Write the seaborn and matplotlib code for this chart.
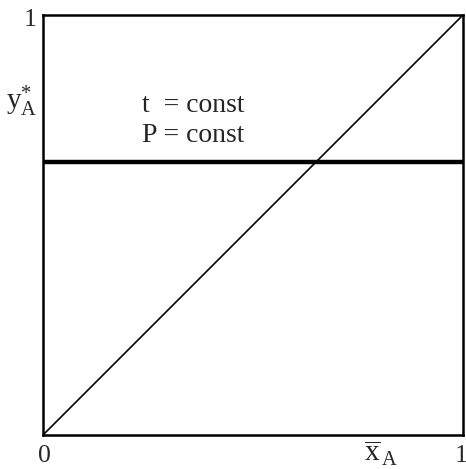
import matplotlib
matplotlib.use("Agg")
import matplotlib.pyplot as plt
import seaborn as sns
import pandas as pd

# Equilibrium diagram: vapour composition y*_A vs. liquid composition x_A
x_ends = [0.0, 1.0]
diagonal = [0.0, 1.0]
y_const = 0.65          # constant vapour composition at fixed t and P
conditions = ["t  = const", "P = const"]

sns.set_theme(style="white")
plt.rcParams["font.family"] = ["Liberation Serif", "DejaVu Serif"]
plt.rcParams["mathtext.fontset"] = "custom"
plt.rcParams["mathtext.rm"] = "Liberation Serif"
plt.rcParams["mathtext.it"] = "Liberation Serif:italic"

W, H, DPI = 466, 469, 100
fig = plt.figure(figsize=(W / DPI, H / DPI), dpi=DPI)
ax = fig.add_axes([43 / W, 1 - 435 / H, 420 / W, 420 / H])

diag_df = pd.DataFrame({"x": x_ends, "y": diagonal})
const_df = pd.DataFrame({"x": x_ends, "y": [y_const, y_const]})
sns.lineplot(data=diag_df, x="x", y="y", ax=ax, color="black", lw=1.2)
sns.lineplot(data=const_df, x="x", y="y", ax=ax, color="black", lw=3.2)

ax.set_xlim(0, 1)
ax.set_ylim(0, 1)
ax.set_xticks([])
ax.set_yticks([])
ax.set_xlabel("")
ax.set_ylabel("")
for s in ax.spines.values():
    s.set_color("black")
    s.set_linewidth(1.8)

fd = 18.5   # digit labels
ft = 20     # text labels
fm = 21     # symbol labels

ax.text(-0.015, 0.988, "1", transform=ax.transAxes, ha="right", va="center", fontsize=fd)
ax.text(0.004, -0.05, "0", transform=ax.transAxes, ha="center", va="center", fontsize=fd)
ax.text(0.995, -0.05, "1", transform=ax.transAxes, ha="center", va="center", fontsize=fd)
ax.text(-0.014, 0.795, r"$\mathrm{y}^{*}_{\mathrm{A}}$", transform=ax.transAxes,
        ha="right", va="center", fontsize=fm)
ax.text(0.805, -0.043, r"$\overline{\mathrm{x}}_{\,\mathrm{A}}$", transform=ax.transAxes,
        ha="center", va="center", fontsize=fm)

ax.text(0.236, 0.769, conditions[0], transform=ax.transAxes, ha="left", va="baseline", fontsize=ft)
ax.text(0.236, 0.698, conditions[1], transform=ax.transAxes, ha="left", va="baseline", fontsize=ft)

fig.savefig("out.png", dpi=DPI, facecolor="white")
